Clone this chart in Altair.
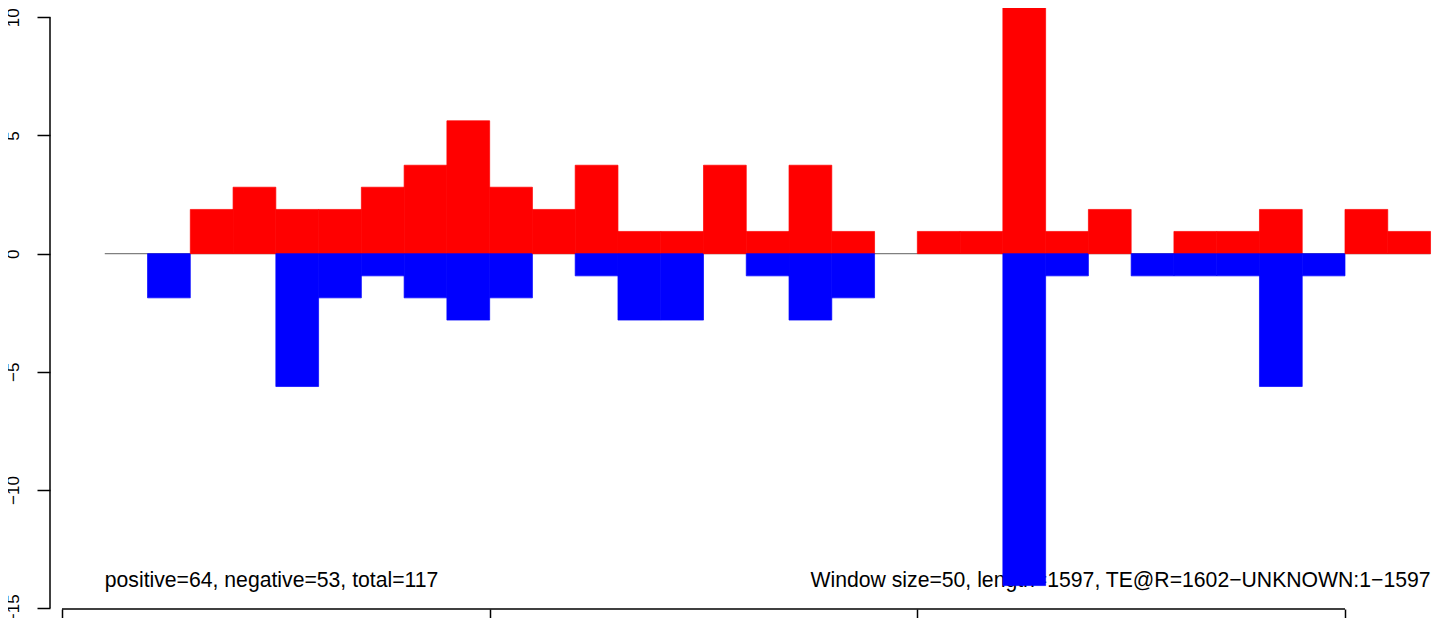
import altair as alt
import pandas as pd

# window starts (bp) and bar heights
starts = [50, 100, 150, 200, 250, 300, 350, 400, 450, 500, 550, 600, 650, 700, 750,
          800, 850, 900, 950, 1000, 1050, 1100, 1150, 1200, 1250, 1300, 1350, 1400,
          1450, 1500, 1550]
pos_vals = [0, 0, 1.87, 2.81, 1.87, 1.87, 2.81, 3.74, 5.62, 2.81, 1.87, 3.74, 0.94,
            0.94, 3.74, 0.94, 3.74, 0.94, 0, 0.94, 0.94, 12.0, 0.94, 1.87, 0, 0.94,
            0.94, 1.87, 0, 1.87, 0.94]
neg_vals = [0, -1.87, 0, 0, -5.62, -1.87, -0.94, -1.87, -2.81, -1.87, 0, -0.94, -2.81,
            -2.81, 0, -0.94, -2.81, -1.87, 0, 0, 0, -14.04, -0.94, 0, -0.94, -0.94,
            -0.94, -5.62, -0.94, 0, 0]
window = 50
y_ticks = [-15, -10, -5, 0, 5, 10]
x_ticks = [0, 500, 1000, 1500]
left_text = "positive=64, negative=53, total=117"
right_text = "Window size=50, length=1597, TE@R=1602\u2212UNKNOWN:1\u22121597"
text_y = -14.08
baseline_x = [50, 1600]

W, H = 1386, 601
FONT = "Liberation Sans"

rows = []
for s, p, n in zip(starts, pos_vals, neg_vals):
    if p != 0:
        rows.append({"start": s, "end": s + window, "v": p, "series": "pos"})
    if n != 0:
        rows.append({"start": s, "end": s + window, "v": n, "series": "neg"})
bars_df = pd.DataFrame(rows)

xs = alt.Scale(domain=[-14.03, 1606.4], nice=False, zero=False)
ys = alt.Scale(domain=[-15.03, 10.39], nice=False, zero=False)

xaxis = alt.Axis(values=x_ticks, tickSize=13, tickWidth=1.5, tickColor="black",
                 labels=False, domain=False, grid=False, title=None)
yaxis = alt.Axis(values=y_ticks, tickSize=13, tickWidth=1.5, tickColor="black",
                 domain=False, grid=False, title=None, labelAngle=270,
                 labelAlign="center", labelBaseline="alphabetic", labelPadding=19,
                 labelFont=FONT, labelFontSize=17, labelColor="black",
                 labelFlush=False, labelOverlap=False, labelBound=False)

base_df = pd.DataFrame({"x": [baseline_x[0]], "x2": [baseline_x[1]], "y": [0]})
zero_line = alt.Chart(base_df).mark_rule(color="#808080", strokeWidth=1.2).encode(
    x=alt.X("x:Q", scale=xs, axis=xaxis),
    x2="x2:Q",
    y=alt.Y("y:Q", scale=ys, axis=yaxis),
)

txt_df = pd.DataFrame({"x": baseline_x, "y": [text_y, text_y],
                       "t": [left_text, right_text]})
left_t = alt.Chart(txt_df.iloc[[0]]).mark_text(
    align="left", baseline="alphabetic", font=FONT, fontSize=21.2, color="black"
).encode(x=alt.X("x:Q", scale=xs), y=alt.Y("y:Q", scale=ys), text="t:N")
right_t = alt.Chart(txt_df.iloc[[1]]).mark_text(
    align="right", baseline="alphabetic", font=FONT, fontSize=21.2, color="black"
).encode(x=alt.X("x:Q", scale=xs), y=alt.Y("y:Q", scale=ys), text="t:N")

color_scale = alt.Scale(domain=["pos", "neg"], range=["#FF0000", "#0000FF"])
bars = alt.Chart(bars_df).mark_rect(clip=True, strokeWidth=0.7).encode(
    x=alt.X("start:Q", scale=xs),
    x2="end:Q",
    y=alt.Y("v:Q", scale=ys),
    y2=alt.datum(0),
    color=alt.Color("series:N", scale=color_scale, legend=None),
    stroke=alt.Stroke("series:N", scale=color_scale, legend=None),
)

yline_df = pd.DataFrame({"y": [y_ticks[-1]], "y2": [y_ticks[0]]})
y_line = alt.Chart(yline_df).mark_rule(color="black", strokeWidth=1.5).encode(
    x=alt.value(0), y=alt.Y("y:Q", scale=ys), y2="y2:Q"
)
xline_df = pd.DataFrame({"x": [x_ticks[0]], "x2": [x_ticks[-1]]})
x_line = alt.Chart(xline_df).mark_rule(color="black", strokeWidth=1.5).encode(
    x=alt.X("x:Q", scale=xs), x2="x2:Q", y=alt.value(H)
)

chart = alt.layer(zero_line, left_t, right_t, bars, y_line, x_line).properties(
    width=W, height=H,
    autosize=alt.AutoSizeParams(type="none"),
    padding={"left": 42, "top": 0, "right": 0, "bottom": 9},
    background="white",
).configure_view(stroke=None)

chart.save("out.html", embed_options={"renderer": "svg", "actions": False})
